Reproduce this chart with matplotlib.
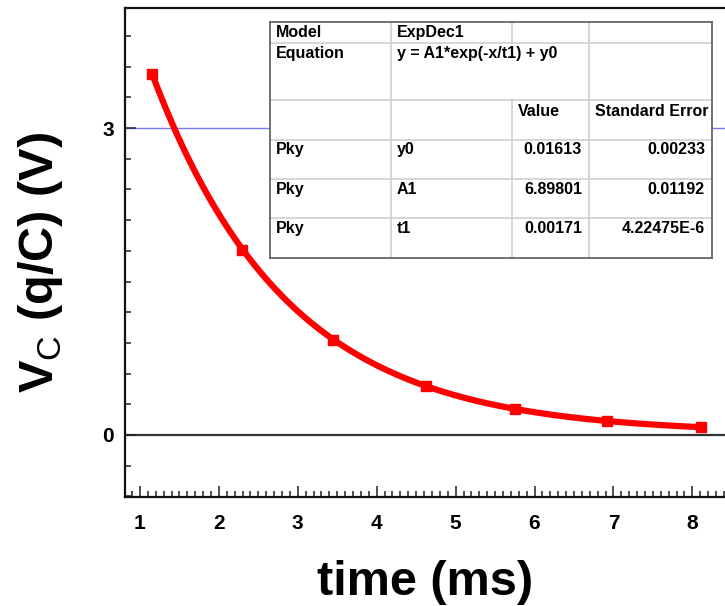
import numpy as np
import matplotlib
matplotlib.use('Agg')
import matplotlib.pyplot as plt
import matplotlib.ticker as ticker

plt.rcParams['font.family'] = ['Liberation Sans', 'DejaVu Sans']
plt.rcParams['mathtext.fontset'] = 'custom'
plt.rcParams['mathtext.rm'] = 'Liberation Sans'
plt.rcParams['mathtext.bf'] = 'Liberation Sans:bold'

# measured points (ms, V)
time_ms = [1.15, 2.29, 3.45, 4.62, 5.75, 6.92, 8.11]
vc = [3.53, 1.81, 0.93, 0.48, 0.25, 0.14, 0.075]

# fit parameters shown in the table (t1 in s)
y0 = 0.01613
a1 = 6.89801
t1 = 0.00171

table_rows = [
    ['Model', 'ExpDec1', '', ''],
    ['Equation', 'y = A1*exp(-x/t1) + y0', '', ''],
    ['', '', 'Value', 'Standard Error'],
    ['Pky', 'y0', '0.01613', '0.00233'],
    ['Pky', 'A1', '6.89801', '0.01192'],
    ['Pky', 't1', '0.00171', '4.22475E-6'],
]

W, H = 725, 606
fig = plt.figure(figsize=(W / 100, H / 100), dpi=100)
ax = fig.add_axes([125 / W, 1 - 497 / H, 600 / W, 489 / H])

ax.axhline(3, color='#7777ff', linewidth=1, zorder=1)
ax.axhline(0, color='#333333', linewidth=1.6, zorder=1)

xf = np.linspace(time_ms[0], time_ms[-1], 300)
yf = a1 * np.exp(-xf / (t1 * 1000)) + y0
ax.plot(xf, yf, color='#ff0000', linewidth=4.5, zorder=3, solid_capstyle='butt')
ax.plot(time_ms, vc, 's', color='#ff0000', markersize=7.5, zorder=4)

ax.set_xlim(0.81, 8.414)
ax.set_ylim(-0.606, 4.173)
ax.xaxis.set_major_locator(ticker.MultipleLocator(1))
ax.xaxis.set_minor_locator(ticker.MultipleLocator(0.1))
ax.yaxis.set_major_locator(ticker.MultipleLocator(3))
ax.yaxis.set_minor_locator(ticker.MultipleLocator(0.3))
ax.tick_params(which='both', direction='in', top=False, right=False,
               width=1.1, color='#222222')
ax.tick_params(which='major', length=8, labelsize=15, pad=8)
ax.tick_params(which='minor', length=4)
ax.tick_params(axis='x', which='major', pad=12)
for lab in ax.get_xticklabels() + ax.get_yticklabels():
    lab.set_fontweight('bold')

for s in ['left', 'bottom', 'top']:
    ax.spines[s].set_linewidth(1.6)
    ax.spines[s].set_color('#111111')
ax.spines['right'].set_visible(False)

ax.set_xlabel('time (ms)', fontsize=35, fontweight='bold', labelpad=20)
ax.set_ylabel(r'$\mathbf{V}_{\mathrm{C}}$ (q/C) (V)', fontsize=35,
              fontweight='bold')
ax.yaxis.set_label_coords(-0.10, 0.48)

# fit report table
tx = fig.add_axes([270 / W, 1 - 258 / H, 442 / W, 236 / H])
tx.set_xlim(270, 712)
tx.set_ylim(258, 22)
tx.set_facecolor('white')
tx.set_xticks([])
tx.set_yticks([])
for s in tx.spines.values():
    s.set_color('#666666')
    s.set_linewidth(1.3)
tx.set_zorder(5)

cols = [270, 391, 512, 589, 712]
rows = [22, 43, 100, 140, 179, 218, 258]
grid_c = '#d0d0d0'
for yy in rows[1:-1]:
    tx.plot([270, 712], [yy, yy], color=grid_c, linewidth=1.2)
tx.plot([391, 391], [22, 258], color=grid_c, linewidth=1.2)
tx.plot([589, 589], [22, 258], color=grid_c, linewidth=1.2)
tx.plot([512, 512], [22, 43], color=grid_c, linewidth=1.2)
tx.plot([512, 512], [100, 258], color=grid_c, linewidth=1.2)

baselines = [37, 57.7, 116, 154, 194, 233]
for r, row in enumerate(table_rows):
    yb = baselines[r]
    for c, txt in enumerate(row):
        if not txt:
            continue
        if r >= 3 and c >= 2:
            xx = cols[c + 1] - 7
            ha = 'right'
        else:
            xx = cols[c] + 6
            ha = 'left'
        tx.text(xx, yb, txt, ha=ha, va='baseline', fontsize=11.5,
                fontweight='bold', color='black')

fig.savefig('out.png', dpi=100)
